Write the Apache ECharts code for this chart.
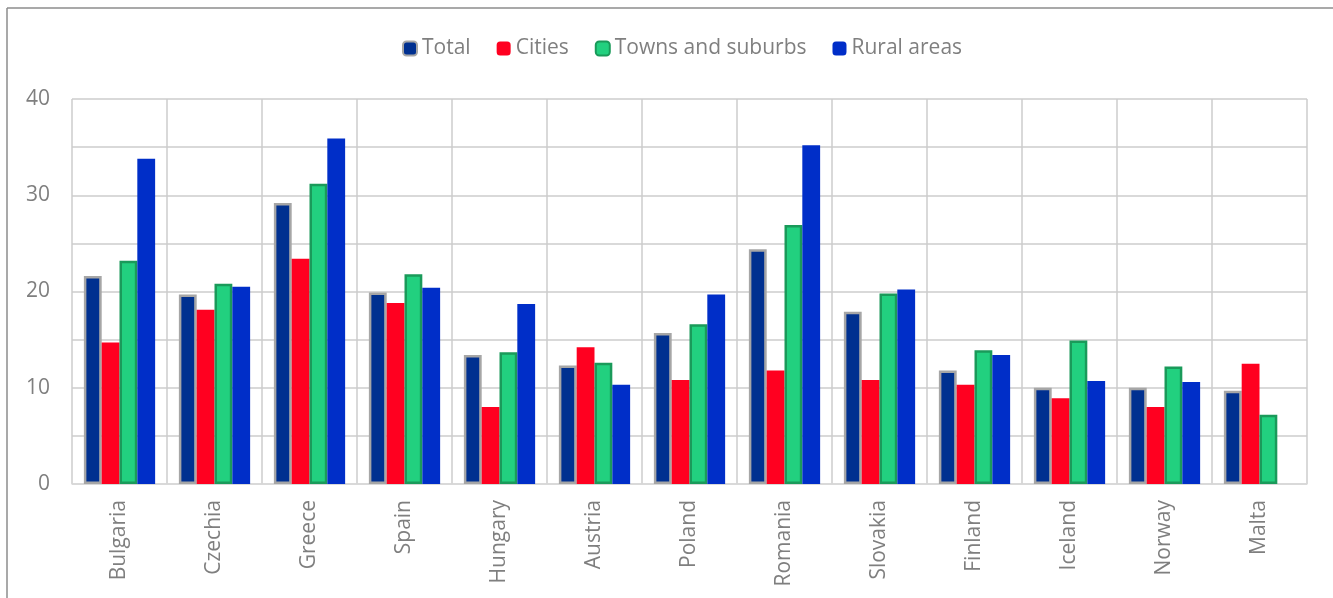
<!DOCTYPE html>
<html>
<head>
<meta charset="utf-8">
<script src="https://cdn.jsdelivr.net/npm/echarts@6/dist/echarts.min.js"></script>
<style>
  html, body { margin: 0; padding: 0; background: #fff; }
  #chart { width: 1333px; height: 598px; }
</style>
</head>
<body>
<div id="chart"></div>
<script>
  // countries on the x axis
  var countries = ['Bulgaria', 'Czechia', 'Greece', 'Spain', 'Hungary', 'Austria', 'Poland',
    'Romania', 'Slovakia', 'Finland', 'Iceland', 'Norway', 'Malta'];
  // values per degree of urbanisation
  var total = [21.6, 19.7, 29.2, 19.9, 13.4, 12.3, 15.7, 24.4, 17.9, 11.8, 10.0, 10.0, 9.7];
  var cities = [14.7, 18.1, 23.4, 18.8, 8.0, 14.2, 10.8, 11.8, 10.8, 10.3, 8.9, 8.0, 12.5];
  var towns = [23.2, 20.8, 31.2, 21.8, 13.7, 12.6, 16.6, 26.9, 19.8, 13.9, 14.9, 12.2, 7.2];
  var rural = [33.8, 20.5, 35.9, 20.4, 18.7, 10.3, 19.7, 35.2, 20.2, 13.4, 10.7, 10.6, null];

  var chartDom = document.getElementById('chart');
  var myChart = echarts.init(chartDom);

  var font = '"Open Sans", "Liberation Sans", sans-serif';

  var option = {
    animation: false,
    textStyle: { fontFamily: font },
    graphic: [
      // outer frame lines of the original picture
      { type: 'line', shape: { x1: 7, y1: 8, x2: 1333, y2: 8 }, style: { stroke: '#8c8c8c', lineWidth: 1.5 } },
      { type: 'line', shape: { x1: 7, y1: 8, x2: 7, y2: 598 }, style: { stroke: '#8c8c8c', lineWidth: 1.5 } }
    ],
    legend: {
      top: 33,
      left: 397,
      itemWidth: 14,
      itemHeight: 14,
      itemGap: 26,
      textStyle: { fontSize: 21, color: '#7f7f7f', fontFamily: font },
      data: ['Total', 'Cities', 'Towns and suburbs', 'Rural areas']
    },
    grid: { left: 72, right: 26, top: 99, bottom: 114 },
    xAxis: {
      type: 'category',
      data: countries,
      axisTick: { show: false },
      axisLine: { lineStyle: { color: '#d9d9d9', width: 1.5 } },
      splitLine: { show: true, lineStyle: { color: '#cccccc', width: 1.5 } },
      axisLabel: { rotate: 90, margin: 16, fontSize: 21, color: '#7f7f7f', fontFamily: font }
    },
    yAxis: {
      type: 'value',
      min: 0,
      max: 40,
      interval: 5,
      axisLine: { show: false },
      axisTick: { show: false },
      splitLine: { lineStyle: { color: '#cccccc', width: 1.5 } },
      axisLabel: {
        margin: 22,
        fontSize: 21,
        color: '#7f7f7f',
        fontFamily: font,
        formatter: function (v) { return v % 10 === 0 ? v : ''; }
      }
    },
    series: [
      {
        name: 'Total', type: 'bar', data: total,
        barGap: '0%', barCategoryGap: '25%',
        itemStyle: { color: '#003090', borderColor: '#a6a6a6', borderWidth: 2.5 }
      },
      {
        name: 'Cities', type: 'bar', data: cities,
        itemStyle: { color: '#ff0020' }
      },
      {
        name: 'Towns and suburbs', type: 'bar', data: towns,
        itemStyle: { color: '#22d07f', borderColor: '#1a9a5a', borderWidth: 2.5 }
      },
      {
        name: 'Rural areas', type: 'bar', data: rural,
        itemStyle: { color: '#002ec8' }
      }
    ]
  };

  option && myChart.setOption(option);
</script>
</body>
</html>
